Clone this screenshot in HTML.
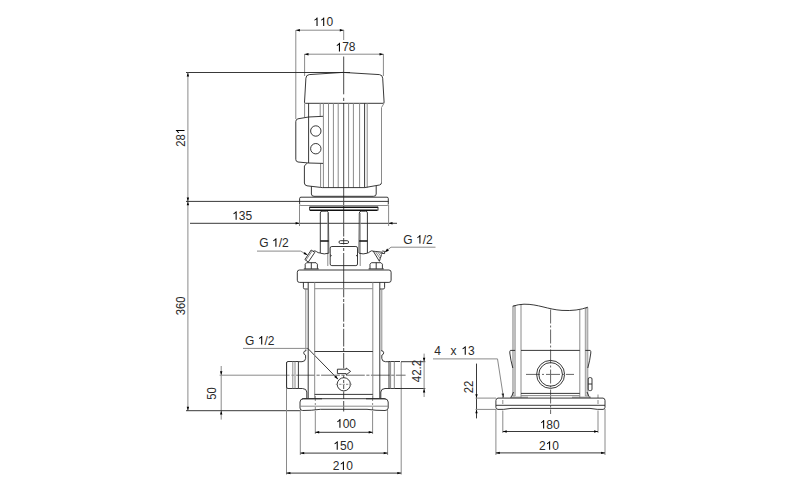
<!DOCTYPE html>
<html><head><meta charset="utf-8">
<style>
html,body{margin:0;padding:0;background:#fff;}
body{width:800px;height:492px;overflow:hidden;}
svg{display:block}
text{font-family:"Liberation Sans",sans-serif;font-size:12px;fill:#2a2a2a;}
.k{stroke:#222;stroke-width:.9;fill:none}
.g{stroke:#8a8a8a;stroke-width:1;fill:none}
.t{stroke:#111;stroke-width:1.6;fill:none}
.a{fill:#000;stroke:none}
.c{stroke:#666;stroke-width:1;fill:none;stroke-dasharray:14 2 2 2}
</style></head><body>
<svg width="800" height="492" viewBox="0 0 800 492">
<rect width="800" height="492" fill="#fff"/>

<!-- ===== dimension lines, front view ===== -->
<g id="dims">
<!-- 110 -->
<path class="g" d="M295.8 30V119M343.7 30V40"/>
<path class="g" d="M296 30.2H344"/>
<path class="a" d="M296 30.2l3.9-1.2v2.4zM343.7 30.2l-3.9-1.2v2.4z"/>
<text x="326.44" y="26.10">0</text><path class="gl" transform="translate(313.09 26.10) scale(0.00586 -0.00586)" d="M763 0H583V1147Q518 1085 412.5 1023T223 930V1104Q373 1174.5 485 1275T644 1470H763Z"/><path class="gl" transform="translate(319.76 26.10) scale(0.00586 -0.00586)" d="M763 0H583V1147Q518 1085 412.5 1023T223 930V1104Q373 1174.5 485 1275T644 1470H763Z"/>
<!-- 178 -->
<path class="g" d="M304.6 54V76M383.4 54V76"/>
<path class="g" d="M304.6 54.2H383.4"/>
<path class="a" d="M304.6 54.2l3.9-1.2v2.4zM383.4 54.2l-3.9-1.2v2.4z"/>
<text x="342.16 348.84" y="51.40">78</text><path class="gl" transform="translate(335.49 51.40) scale(0.00586 -0.00586)" d="M763 0H583V1147Q518 1085 412.5 1023T223 930V1104Q373 1174.5 485 1275T644 1470H763Z"/>
<!-- top horiz -->
<path class="k" d="M186 72.5H350"/>
<!-- 281 / 360 vertical -->
<path class="g" d="M187.9 72.5V410.7"/>
<path class="a" d="M187.9 72.5l-1.2 3.9h2.4zM187.9 201.4l-1.2-3.9h2.4zM187.9 201.4l-1.2 3.9h2.4zM187.9 410.7l-1.2-3.9h2.4z"/>
<g transform="translate(184.5 137.4) rotate(-90) scale(.94 1)"><text x="-10.01 -3.34" y="0.00">28</text><path class="gl" transform="translate(3.34 0.00) scale(0.00586 -0.00586)" d="M763 0H583V1147Q518 1085 412.5 1023T223 930V1104Q373 1174.5 485 1275T644 1470H763Z"/></g>
<g transform="translate(184.5 305.8) rotate(-90) scale(.94 1)"><text x="-10.01 -3.34 3.34" y="0.00">360</text></g>
<!-- flange horiz -->
<path class="k" d="M186 201.4H388.5"/>
<!-- 135 -->
<path class="k" d="M190 223.3H397"/>
<path class="g" d="M299.5 205V226M388.6 205V226"/>
<path class="a" d="M299.5 223.3l-3.9-1.2v2.4zM388.6 223.3l3.9-1.2v2.4z"/>
<text x="238.86 245.54" y="219.80">35</text><path class="gl" transform="translate(232.19 219.80) scale(0.00586 -0.00586)" d="M763 0H583V1147Q518 1085 412.5 1023T223 930V1104Q373 1174.5 485 1275T644 1470H763Z"/>
<!-- G 1/2 left upper -->
<text x="259.30 278.64 281.98" y="246.80">G/2</text><path class="gl" transform="translate(271.97 246.80) scale(0.00586 -0.00586)" d="M763 0H583V1147Q518 1085 412.5 1023T223 930V1104Q373 1174.5 485 1275T644 1470H763Z"/>
<path class="g" d="M257 251.1H300.6L306.8 254.6"/>
<path class="a" d="M307.8 255.2l-4.3-1.1 1.2-2z"/>
<!-- G 1/2 right upper -->
<text x="403.30 422.64 425.98" y="243.60">G/2</text><path class="gl" transform="translate(415.97 243.60) scale(0.00586 -0.00586)" d="M763 0H583V1147Q518 1085 412.5 1023T223 930V1104Q373 1174.5 485 1275T644 1470H763Z"/>
<path class="g" d="M435.5 247.2H391L385.6 251.6"/>
<path class="a" d="M384.8 252.3l2.3-3.8 1.8 2.2z"/>
<!-- G 1/2 lower -->
<text x="245.10 264.44 267.78" y="344.50">G/2</text><path class="gl" transform="translate(257.77 344.50) scale(0.00586 -0.00586)" d="M763 0H583V1147Q518 1085 412.5 1023T223 930V1104Q373 1174.5 485 1275T644 1470H763Z"/>
<path class="g" d="M243 348.4H307.8"/>
<path class="k" d="M307.8 348.4L337.6 378.8" stroke="#333" stroke-width=".7"/>
<path class="a" d="M338.2 379.4l-4-2.3 1.9-1.8z"/>
<!-- 50 -->
<path class="g" d="M221.2 366V419.6"/>
<path class="a" d="M221.2 375.2l-1.2-3.9h2.4zM221.2 410.7l-1.2 3.9h2.4z"/>
<g transform="translate(216.2 393.5) rotate(-90) scale(.94 1)"><text x="-6.67 0.00" y="0.00">50</text></g>
<path class="k" d="M186 410.7H300"/>
<!-- 100 -->
<path class="g" d="M315.3 411V434M372.6 411V434"/><path class="g" d="M315.3 396V410M372.6 396V410" stroke-dasharray="5 2 2 2"/>
<path class="k" d="M315.3 432.3H372.6"/>
<path class="a" d="M315.3 432.3l3.9-1.2v2.4zM372.6 432.3l-3.9-1.2v2.4z"/>
<text x="342.66 349.34" y="427.70">00</text><path class="gl" transform="translate(335.99 427.70) scale(0.00586 -0.00586)" d="M763 0H583V1147Q518 1085 412.5 1023T223 930V1104Q373 1174.5 485 1275T644 1470H763Z"/>
<!-- 150 -->
<path class="g" d="M300.3 410V455M387.6 410V455"/>
<path class="k" d="M300.3 453.1H387.6"/>
<path class="a" d="M300.3 453.1l3.9-1.2v2.4zM387.6 453.1l-3.9-1.2v2.4z"/>
<text x="339.96 346.64" y="449.80">50</text><path class="gl" transform="translate(333.29 449.80) scale(0.00586 -0.00586)" d="M763 0H583V1147Q518 1085 412.5 1023T223 930V1104Q373 1174.5 485 1275T644 1470H763Z"/>
<!-- 210 -->
<path class="g" d="M286.5 362V474.5M401.2 362V474.5"/>
<path class="k" d="M286.5 473.1H401.2"/>
<path class="a" d="M286.5 473.1l3.9-1.2v2.4zM401.2 473.1l-3.9-1.2v2.4z"/>
<text x="332.79 346.14" y="470.00">20</text><path class="gl" transform="translate(339.46 470.00) scale(0.00586 -0.00586)" d="M763 0H583V1147Q518 1085 412.5 1023T223 930V1104Q373 1174.5 485 1275T644 1470H763Z"/>
<!-- 42.2 -->
<path class="k" d="M401 361.7H425.3M394 388.5H425.3"/>
<path class="g" d="M424.1 353.6V397"/>
<path class="a" d="M424.1 361.7l-1.2-3.9h2.4zM424.1 388.5l-1.2 3.9h2.4z"/>
<g transform="translate(421.2 371) rotate(-90) scale(.96 1)"><text x="-11.68 -5.00 1.67 5.00" y="0.00">42.2</text></g>
<!-- 4 x 13 -->
<text x="434.30" y="354.80">4</text><text x="450.40" y="354.50" font-size="8.6">x</text><text x="467.97" y="354.80">3</text><path class="gl" transform="translate(461.30 354.80) scale(0.00586 -0.00586)" d="M763 0H583V1147Q518 1085 412.5 1023T223 930V1104Q373 1174.5 485 1275T644 1470H763Z"/>
<path class="g" d="M433 358.9H497.5L503.4 397"/>
<path class="a" d="M503.5 398l-2-4.2 2.4-.4z"/>
<!-- 22 -->
<path class="k" d="M476.5 363.6V418.4" stroke-width=".8"/>
<path class="a" d="M476.5 398.1l-1.2-3.9h2.4zM476.5 409.4l-1.2 3.9h2.4z"/>
<g transform="translate(473.2 387) rotate(-90) scale(.94 1)"><text x="-6.67 0.00" y="0.00">22</text></g>
<path class="g" d="M475.5 398.1H496M475.5 409.4H496"/>
<!-- 180 -->
<path class="g" d="M502.8 410.5V433M598 410.5V433"/><path class="g" d="M502.8 394.5V398M502.8 400V404M598 394.5V398M598 400V404"/>
<path class="k" d="M502.8 431.5H598"/>
<path class="a" d="M502.8 431.5l3.9-1.2v2.4zM598 431.5l-3.9-1.2v2.4z"/>
<text x="546.36 553.04" y="428.60">80</text><path class="gl" transform="translate(539.69 428.60) scale(0.00586 -0.00586)" d="M763 0H583V1147Q518 1085 412.5 1023T223 930V1104Q373 1174.5 485 1275T644 1470H763Z"/>
<!-- 210 side -->
<path class="g" d="M495.9 409V455M605 409V455"/>
<path class="k" d="M495.9 452.9H605"/>
<path class="a" d="M495.9 452.9l3.9-1.2v2.4zM605 452.9l-3.9-1.2v2.4z"/>
<text x="538.99 552.34" y="449.80">20</text><path class="gl" transform="translate(545.66 449.80) scale(0.00586 -0.00586)" d="M763 0H583V1147Q518 1085 412.5 1023T223 930V1104Q373 1174.5 485 1275T644 1470H763Z"/>
</g>


<g id="front">
<!-- centre line -->
<path d="M343.7 56.5V94.3M343.7 97.8V101M343.7 103V236.5M343.7 238V244.5M343.7 248V251M343.7 253V297.3M343.7 299V302M343.7 303.4V321.7M343.7 323.5V327M343.7 328.8V346.5M343.7 348V351M343.7 353V368.4M343.7 375V378M343.7 380V383M343.7 385V389M343.7 391.5V399M343.7 401V411.5" stroke="#4a4a4a" stroke-width="1" fill="none"/>
<path class="g" d="M219.6 375.2H289.6M291.4 375.2H294.4" stroke="#777"/><path d="M296.2 375.2H405.6" stroke="#6a6a6a" fill="none" stroke-dasharray="18.8 1.5 3.2 1.4"/>
<!-- fan cover -->
<path class="k" d="M304.5 102.3L305.9 78.2Q306.1 74.9 309.2 74.6L343 72.4L379.4 74.6Q382.5 74.9 382.7 78.2L384.1 102.3Q384.1 103.3 383 103.3H305.6Q304.5 103.3 304.5 102.3Z"/>
<!-- motor body -->
<path class="g" d="M304.6 103.3V117.4" stroke="#666"/><path class="k" d="M308.6 103.3V163"/>
<path class="g" d="M320.2 103.3V116.5M323.4 103.3V187.6M328.5 103.3V187.6M333.4 103.3V187.6M338.2 103.3V187.6M348.6 103.3V187.6M353.4 103.3V187.6M359.6 103.3V187.6M367.2 103.3V187.6"/>
<path class="k" d="M364.6 103.3V187.6" stroke-width="1.2"/>
<path class="g" d="M384 103.3L381.5 107.5V182.5"/><path class="k" d="M381.5 182.5Q381.5 184.6 379.5 185L364.6 187.6H322.3L307 185.8Q304.4 185.3 304.4 183V166L307 163.2"/>
<path class="g" d="M320.6 163.5V187.4"/>
<!-- terminal box -->
<path class="k" d="M323 116.3L308.6 117L298 118.8Q295.8 119.2 295.8 121.5V159.5Q295.8 161.6 298 162L308.6 163L323 163.4"/>
<circle class="k" cx="315.8" cy="131" r="5.2"/>
<circle class="k" cx="315.8" cy="148.7" r="5.2"/>
<!-- neck -->
<path class="k" d="M311.4 186.3V194Q311.4 196.3 314 196.3H373.5Q376.2 196.3 376.2 194V186"/>
<!-- flange -->
<path class="k" d="M299.6 204.3V198.5Q299.6 197.2 301 197.2H387Q388.3 197.2 388.3 198.5V204.3"/><path class="g" d="M299.6 204.3Q299.6 205.5 301 205.5H387Q388.3 205.5 388.3 204.3" stroke="#777"/>
<path class="t" d="M309.6 207.2H378M310 210.2H377.6" stroke-width="1.05"/>
<path class="k" d="M309.6 206.8V210.5M378 206.8V210.5"/>
<!-- posts -->
<path class="k" stroke="#4a4a4a" stroke-width=".85" d="M320.3 253V213Q320.3 211.2 322 211.2H326.5Q328.2 211.2 328.4 213L328.8 253"/>
<path class="k" stroke="#4a4a4a" stroke-width=".85" d="M367.4 253V213Q367.4 211.2 365.7 211.2H361.2Q359.5 211.2 359.3 213L359 253"/>
<path class="g" d="M327.8 213V266M360.2 213V266"/>
<path class="t" d="M320.3 241H328.6M359.2 241H367.4" stroke-width="1.8"/>
<path class="k" d="M320.3 253.2Q324 254.6 328.8 253.2M359 253.2Q363 254.6 367.4 253.2"/>
<!-- vent plug middle -->
<rect class="k" x="339" y="240.7" width="9.6" height="2.8" rx="1.4"/>
<!-- coupling box -->
<rect class="k" x="330.2" y="246.5" width="27.3" height="19.1" rx="1.6" stroke="#555" stroke-width=".85"/><path class="k" d="M330.2 254.8l1.2.8-1.2.8M357.5 254.8l-1.2.8 1.2.8" stroke="#555" stroke-width=".7"/>
<!-- left vent -->
<path class="k" d="M311.2 250L314.8 252.4L308.3 262L304.9 259.6Z"/><path class="g" d="M312.2 250.9L306 260.1" stroke-width=".7"/>
<path class="k" d="M313 251.4Q315 250.2 316.5 251.6T320.3 253"/>
<!-- right vent -->
<path class="k" d="M373.3 251.2L382.2 252.2L379.4 261.3Z"/>
<path class="g" d="M375.4 251.6L380.6 259.2M377.6 251.9L381.3 257M379.7 252.2L381.8 255" stroke="#666" stroke-width=".7"/>
<path class="k" d="M382.2 251L384.6 251.3V253.6L382 253.3"/>
<path class="k" d="M373.3 251.2Q371.5 250.2 370 251.6T367.4 253"/>
<!-- nuts -->
<path class="k" d="M305.2 268.8V264.2L306.6 262.7H316L317.4 264.2V268.8M311.3 262.7V268.8"/>
<path class="k" d="M370 268.8V264.2L371.4 262.7H381L382.4 264.2V268.8M376.2 262.7V268.8"/>
<path class="k" d="M303.8 268.9H318.8M368.6 268.9H383.8" stroke-width="1.1"/>
<!-- pump head flange -->
<rect class="k" x="297.3" y="270" width="93.8" height="12.4" rx="2.2"/>
<!-- under blocks -->
<path class="k" d="M303.4 282.4V287.6Q303.4 289 304.8 289H307.8M384.6 282.4V287.6Q384.6 289 383.2 289H380"/>
<!-- sleeve / tie rods -->
<path class="g" d="M305.8 289V351M314.7 282.4V398M372.8 282.4V398M381.8 289V351"/>
<path class="k" d="M308.2 282.4V398M379.8 282.4V398" stroke-width="1.3"/>
<path class="g" d="M314.7 288.7H372.8" stroke="#555"/>
<path class="k" d="M314.7 351.5H372.8" stroke="#444"/>
<!-- body lower left -->
<path class="k" d="M306.2 350.6Q303.6 351 303.7 352.8T305.6 355.2V358.5Q305.4 361.6 302 361.7H298.4"/>
<path class="k" d="M298.4 388.5H302.5Q306.6 388.7 306.8 392V398.5"/>
<!-- left port flange -->
<path class="k" d="M298.4 361.5H288Q286.6 361.5 286.6 363V387Q286.6 388.5 288 388.5H298.4Z"/>
<path class="g" d="M292.8 361.5V388.5M295 361.5V388.5" stroke="#a8a8a8" stroke-width=".9"/>
<!-- body lower right -->
<path class="k" d="M381.2 350.6Q383.8 351 383.7 352.8T381.8 355.2V358.5Q382 361.6 385.4 361.7H389"/>
<path class="k" d="M389 388.5H385Q381 388.7 380.8 392V398.5"/>
<path class="k" d="M389 388.5V361.5H400M400 388.5H389"/>
<path class="g" d="M390.6 361.5V388.5M394.3 361.5V388.5" stroke="#a8a8a8" stroke-width=".9"/>
<!-- flow arrow -->
<path class="k" d="M337.4 369.2H346.2V368L350.6 371.4L346.2 374.8V373.6H337.4Z"/>
<!-- drain circle -->
<circle class="k" cx="343.8" cy="384.3" r="6.6"/>
<path class="g" d="M335.8 384.3H352" stroke="#555" stroke-dasharray="2.3 1.1"/>
<!-- body bottom lines -->
<path class="k" d="M314.7 394.4H372.8" stroke="#555"/>

<!-- base -->
<path class="k" stroke="#555" d="M303.4 398.7H384.2Q388.2 398.9 388.2 402V408Q388 410.4 385 410.5Q376 410.6 367 409.3H320.5Q311 410.6 302.6 410.5Q300 410.4 300 408V402Q300 398.9 303.4 398.7Z"/>
<path class="g" d="M300 406.2H388" stroke="#555"/>
<path class="k" d="M302 398.8H322M366 398.8H385.6" stroke-width="1.2"/>
</g>


<g id="side">
<path class="c" d="M550.6 309.5V414" stroke="#444" stroke-dasharray="12 2 2 2"/>
<path class="c" d="M526 374.4H574" stroke="#777" stroke-dasharray="9 2 2 2"/>
<!-- outer sleeves -->
<path d="M512.8 306.2V396H515.2V305.6Z" fill="#cfcfcf" stroke="#8a8a8a" stroke-width=".8"/>
<path d="M585.3 308.6V396H587.8V307.6Z" fill="#cfcfcf" stroke="#8a8a8a" stroke-width=".8"/>
<path class="g" d="M521 304.2V397.8M579.8 309.8V397.8"/>
<!-- break line -->
<path class="k" d="M512.8 306.2Q518 304.4 524 304.2C538 304 548 309.5 562 310.4C572 311 581 309.8 587.8 307.2" stroke-width=".9"/>
<!-- horizontal split -->
<path class="k" d="M521 350.4H579.8"/>
<!-- flares -->
<path class="k" d="M515.2 350.4H510.4Q509.6 351 509.8 353Q510.6 360 512.8 368"/>
<path class="k" d="M585.3 350.4H590.2Q591 351 590.8 353Q590 360 587.8 368"/>
<!-- port -->
<circle class="k" cx="550.6" cy="374.4" r="14"/>
<circle class="k" cx="550.6" cy="374.4" r="11.8" stroke-width="1.3"/>
<!-- plug right -->
<rect class="k" x="588.2" y="377.6" width="3.8" height="13" rx="1.4" stroke-width="1.2"/>
<path class="k" d="M588.2 384H592"/>
<!-- body bottom -->
<path class="k" d="M521 393.4H579.8"/>
<path class="g" d="M521 395.6H579.8"/>
<!-- feet -->
<path class="k" d="M513.5 392L511 397.8M587 392L589.6 397.8"/>
<path class="g" d="M510 397.2H528M572 397.2H591"/>
<!-- base -->
<path class="k" d="M498 398.1H603Q605 398.3 605 400.5V407.4Q605 409.2 603 409.4Q598 409.8 590 408.4H511Q503 409.8 498 409.4Q496 409.2 495.9 407.4V400.5Q496 398.3 498 398.1Z"/>
<path class="k" d="M496 405.3H605" stroke-width="1.3"/>
</g>

</svg>
</body></html>
